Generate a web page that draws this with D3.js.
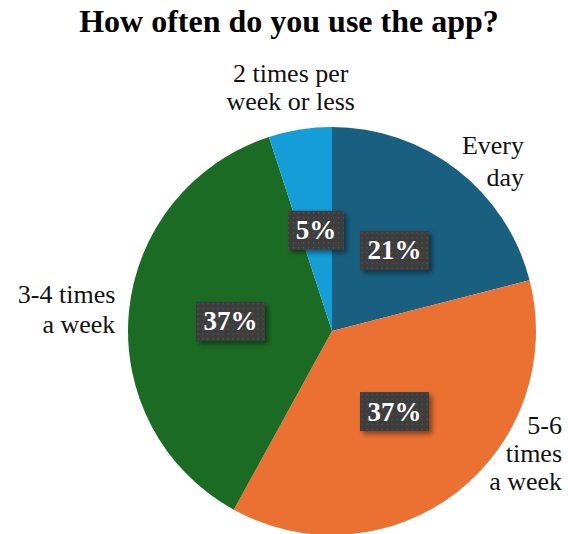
<!DOCTYPE html>
<html>
<head>
<meta charset="utf-8">
<script src="https://cdn.jsdelivr.net/npm/d3@7"></script>
<style>
  html, body { margin: 0; padding: 0; background: #fff; }
  svg { display: block; }
  svg text { font-family: "Liberation Serif", serif; }
</style>
</head>
<body>
<div id="chart"></div>
<script>
// Pie chart: "How often do you use the app?"

const title = "How often do you use the app?";
const categories = ["Every day", "5-6 times a week", "3-4 times a week", "2 times per week or less"];
const values = [21, 37, 37, 5];
const labelLines = [["Every", "day"], ["5-6", "times", "a week"], ["3-4 times", "a week"], ["2 times per", "week or less"]];
const colors = ["#185f80", "#eb7133", "#1b6b24", "#149dd6"];

// outer label placement, relative to the slice's mid-angle point at 1.2r
const LABEL_LAYOUT = [
  { anchor: "end",    dx: 42, dy: 16,  lh: 32 },
  { anchor: "end",    dx: 80, dy: -90, lh: 28 },
  { anchor: "end",    dx: 27, dy: -5,  lh: 30 },
  { anchor: "middle", dx: -3, dy: -7,  lh: 28 },
];

const W = 568, H = 534;
const CX = 332, CY = 331, R = 204;

const svg = d3.select("#chart").append("svg")
  .attr("width", W)
  .attr("height", H);

const defs = svg.append("defs");
const pat = defs.append("pattern")
  .attr("id", "dots")
  .attr("patternUnits", "userSpaceOnUse")
  .attr("width", 5).attr("height", 5);
pat.append("rect").attr("width", 5).attr("height", 5).attr("fill", "#3d3d3d");
pat.append("rect").attr("x", 2).attr("y", 2).attr("width", 1.2).attr("height", 1.2).attr("fill", "#5c5c5c");

const shadow = defs.append("filter")
  .attr("id", "shadow")
  .attr("x", "-20%").attr("y", "-20%")
  .attr("width", "150%").attr("height", "160%");
shadow.append("feDropShadow")
  .attr("dx", 3).attr("dy", 3)
  .attr("stdDeviation", 2.5)
  .attr("flood-color", "#000")
  .attr("flood-opacity", 0.45);

svg.append("text")
  .attr("x", 289)
  .attr("y", 32)
  .attr("text-anchor", "middle")
  .style("font-weight", 700)
  .style("font-size", "32px")
  .attr("fill", "#000")
  .text(title);

const pie = d3.pie().sort(null).value(d => d);
const arcs = pie(values);
const arc = d3.arc().innerRadius(0).outerRadius(R);
const midArc = d3.arc().innerRadius(R * 0.5).outerRadius(R * 0.5);
const outerArc = d3.arc().innerRadius(R * 1.2).outerRadius(R * 1.2);

const g = svg.append("g").attr("transform", `translate(${CX},${CY})`);

g.selectAll("path.slice")
  .data(arcs)
  .join("path")
  .attr("class", "slice")
  .attr("d", arc)
  .attr("fill", (d, i) => colors[i]);

// value boxes
const boxes = g.selectAll("g.vlabel")
  .data(arcs)
  .join("g")
  .attr("class", "vlabel")
  .attr("transform", d => `translate(${midArc.centroid(d)})`);

boxes.each(function(d) {
  const gb = d3.select(this);
  const rect = gb.append("rect").attr("fill", "url(#dots)").attr("filter", "url(#shadow)");
  const t = gb.append("text")
    .attr("text-anchor", "middle")
    .attr("y", 9)
    .style("font-weight", 700)
    .style("font-size", "27px")
    .attr("fill", "#fff")
    .text(d3.format(".0f")(d.value) + "%");
  const tw = t.node().getComputedTextLength();
  const bw = tw + 15, bh = 39;
  rect.attr("x", -bw / 2).attr("y", -bh / 2).attr("width", bw).attr("height", bh);
});

// category labels
g.selectAll("text.clabel")
  .data(arcs)
  .join("text")
  .attr("class", "clabel")
  .style("font-size", "26px")
  .attr("fill", "#111")
  .attr("text-anchor", (d, i) => LABEL_LAYOUT[i].anchor)
  .each(function(d, i) {
    const [px, py] = outerArc.centroid(d);
    const L = LABEL_LAYOUT[i];
    d3.select(this).selectAll("tspan")
      .data(labelLines[i])
      .join("tspan")
      .attr("x", px + L.dx)
      .attr("y", (s, j) => py + L.dy + j * L.lh)
      .text(s => s);
  });
</script>
</body>
</html>
